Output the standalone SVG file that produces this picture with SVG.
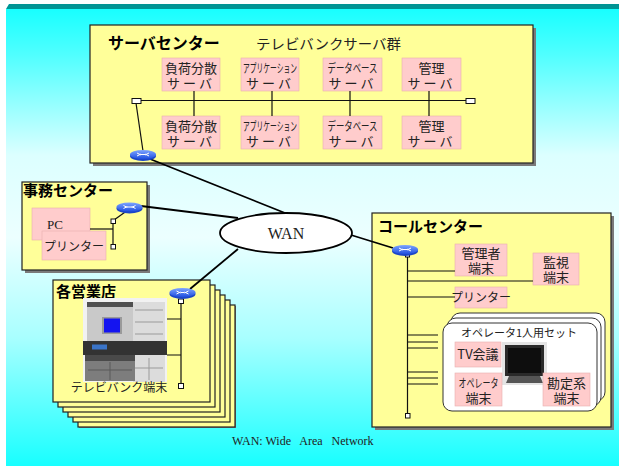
<svg xmlns="http://www.w3.org/2000/svg" width="619" height="466" viewBox="0 0 619 466">
  <defs>
    <linearGradient id="bg" x1="0" y1="0" x2="0" y2="1">
      <stop offset="0" stop-color="#18ffff"/>
      <stop offset="0.1" stop-color="#50ffff"/>
      <stop offset="0.32" stop-color="#dcffff"/>
      <stop offset="0.5" stop-color="#ecffff"/>
      <stop offset="0.72" stop-color="#a8ffff"/>
      <stop offset="1" stop-color="#18ffff"/>
    </linearGradient>
    <linearGradient id="rtr" x1="0" y1="0" x2="0" y2="1">
      <stop offset="0" stop-color="#7fa6ff"/>
      <stop offset="1" stop-color="#1f4fe0"/>
    </linearGradient>
    <g id="router">
      <ellipse cx="0" cy="1" rx="13" ry="5" fill="#1c46c8"/>
      <ellipse cx="0" cy="-0.5" rx="13" ry="4.5" fill="url(#rtr)"/>
      <path d="M-6 -2 L-2 0 M-6 1 L-2 -1 M6 -2 L2 0 M6 1 L2 -1 M-2 -0.5 H2" stroke="#fff" stroke-width="1"/>
    </g>
  </defs>
  <style>
    .box{fill:#ffff99;stroke:#222;stroke-width:1.2}
    .shadow{fill:#7a7a7a}
    .pink{fill:#ffcccc;stroke:#e8b0b0;stroke-width:0.6}
    .wire{stroke:#111;stroke-width:1.2;fill:none}
    .thick{stroke:#000;stroke-width:1.8;fill:none}
    .term{fill:#fff;stroke:#111;stroke-width:1}
    .title{font-family:"Liberation Sans","Noto Sans CJK JP",sans-serif;font-weight:bold;fill:#000}
    .jp{font-family:"Noto Sans CJK JP",sans-serif;fill:#222}
    .serif{font-family:"Liberation Serif","Noto Sans CJK JP",serif;fill:#222}
    .set{fill:#fff;stroke:#333;stroke-width:1}
    .lbl{font-family:"Noto Sans CJK JP",sans-serif;fill:#222;font-size:13px;text-anchor:middle}
  </style>

  <!-- page background -->
  <rect x="0" y="0" width="619" height="466" fill="#fff"/>
  <rect x="6" y="9" width="613" height="457" fill="url(#bg)"/>
  <path d="M9 4 H619 V9 H6 Z" fill="#009494"/>

  <!-- server centre -->
  <g id="server-center">
    <rect class="shadow" x="93" y="28" width="443" height="138"/>
    <rect class="box" x="90" y="25" width="443" height="138"/>
    <text class="title" x="108" y="49" font-size="16">サーバセンター</text>
    <text class="jp" x="256" y="49" font-size="14" textLength="145" lengthAdjust="spacingAndGlyphs">テレビバンクサーバ群</text>
  </g>
  <g id="srv-lb1"><rect class="pink" x="162" y="58" width="58" height="33"/>
    <text class="lbl"><tspan x="191" y="73">負荷分散</tspan><tspan x="191" y="88" letter-spacing="3">サーバ</tspan></text></g>
  <g id="srv-app1"><rect class="pink" x="241" y="58" width="58" height="33"/>
    <text class="lbl"><tspan x="270" y="73" font-size="12" textLength="54" lengthAdjust="spacingAndGlyphs">アプリケーション</tspan><tspan x="270" y="88" letter-spacing="3">サーバ</tspan></text></g>
  <g id="srv-db1"><rect class="pink" x="323" y="58" width="59" height="33"/>
    <text class="lbl"><tspan x="352.5" y="73" font-size="12" textLength="50" lengthAdjust="spacingAndGlyphs">データベース</tspan><tspan x="352.5" y="88" letter-spacing="3">サーバ</tspan></text></g>
  <g id="srv-mg1"><rect class="pink" x="402" y="58" width="59" height="33"/>
    <text class="lbl"><tspan x="431.5" y="73">管理</tspan><tspan x="431.5" y="88" letter-spacing="3">サーバ</tspan></text></g>
  <g id="srv-lb2"><rect class="pink" x="162" y="116" width="58" height="33"/>
    <text class="lbl"><tspan x="191" y="131">負荷分散</tspan><tspan x="191" y="146" letter-spacing="3">サーバ</tspan></text></g>
  <g id="srv-app2"><rect class="pink" x="241" y="116" width="58" height="33"/>
    <text class="lbl"><tspan x="270" y="131" font-size="12" textLength="54" lengthAdjust="spacingAndGlyphs">アプリケーション</tspan><tspan x="270" y="146" letter-spacing="3">サーバ</tspan></text></g>
  <g id="srv-db2"><rect class="pink" x="323" y="116" width="59" height="33"/>
    <text class="lbl"><tspan x="352.5" y="131" font-size="12" textLength="50" lengthAdjust="spacingAndGlyphs">データベース</tspan><tspan x="352.5" y="146" letter-spacing="3">サーバ</tspan></text></g>
  <g id="srv-mg2"><rect class="pink" x="402" y="116" width="59" height="33"/>
    <text class="lbl"><tspan x="431.5" y="131">管理</tspan><tspan x="431.5" y="146" letter-spacing="3">サーバ</tspan></text></g>

  <!-- office centre -->
  <g id="office-center">
    <rect class="shadow" x="25" y="185" width="125" height="88"/>
    <rect class="box" x="22" y="182" width="125" height="88"/>
    <text class="title" x="23" y="196" font-size="15">事務センター</text>
  </g>
  <g id="office-pc"><rect class="pink" x="32" y="208" width="58" height="32"/>
    <text class="serif" x="55" y="229" font-size="13" text-anchor="middle">PC</text></g>
  <g id="office-printer"><rect class="pink" x="42" y="231" width="64" height="29"/>
    <text class="jp" x="74" y="251" font-size="12" text-anchor="middle">プリンター</text></g>

  <!-- branch offices: stacked sheets -->
  <g id="branch">
    <rect class="shadow" x="79" y="306" width="157" height="122"/>
    <rect class="box" x="78" y="305" width="157" height="122"/>
    <rect class="box" x="73" y="300" width="157" height="122"/>
    <rect class="box" x="68" y="295" width="157" height="122"/>
    <rect class="box" x="63" y="290" width="157" height="122"/>
    <rect class="box" x="58" y="285" width="157" height="122"/>
    <rect class="box" x="53" y="280" width="157" height="122"/>
    <text class="title" x="56" y="297" font-size="15">各営業店</text>
  </g>
  <g id="branch-terminal">
    <rect x="83" y="298" width="84" height="84" fill="#f2f2f2"/>
    <rect x="87" y="302" width="46" height="5" fill="#505050"/>
    <rect x="87" y="307" width="46" height="35" fill="#c9c9c9"/>
    <rect x="102" y="317" width="20" height="17" fill="#9a9a9a"/>
    <rect x="104" y="318.5" width="16" height="14" fill="#1414f0"/>
    <rect x="133" y="302" width="32" height="80" fill="#dcdcdc"/>
    <path d="M135 310 H163 M135 322 H163 M135 334 H163 M149 358 V380 M135 368 H163" stroke="#9a9a9a" stroke-width="1"/>
    <rect x="83" y="341" width="84" height="14" fill="#333"/>
    <rect x="92" y="344.5" width="15" height="5" fill="#3a74c8"/>
    <rect x="85" y="355" width="50" height="26" fill="#7d7d7d"/>
    <rect x="85" y="355" width="50" height="6" fill="#4a4a4a"/>
    <path d="M110 362 V380 M88 370 H132" stroke="#5a5a5a" stroke-width="1"/>
    <text class="jp" x="119" y="392" font-size="12" text-anchor="middle">テレビバンク端末</text>
  </g>

  <!-- call centre -->
  <g id="call-center">
    <rect class="shadow" x="375" y="216" width="239" height="214"/>
    <rect class="box" x="372" y="213" width="239" height="214"/>
    <text class="title" x="378" y="232" font-size="15">コールセンター</text>
  </g>
  <g id="cc-manager"><rect class="pink" x="455" y="244" width="52" height="32"/>
    <text class="lbl"><tspan x="481" y="258">管理者</tspan><tspan x="481" y="273">端末</tspan></text></g>
  <g id="cc-monitor"><rect class="pink" x="533" y="253" width="46" height="32"/>
    <text class="lbl"><tspan x="556" y="267">監視</tspan><tspan x="556" y="282">端末</tspan></text></g>
  <g id="cc-printer"><rect class="pink" x="455" y="287" width="52" height="21"/>
    <text class="jp" x="481" y="302" font-size="12" text-anchor="middle">プリンター</text></g>
  <g id="operator-set">
    <rect class="set" x="451" y="313" width="154" height="88" rx="9"/>
    <rect class="set" x="447" y="318" width="154" height="88" rx="9"/>
    <rect class="set" x="443" y="323" width="154" height="88" rx="9"/>
    <text class="jp" x="519" y="337" font-size="11" text-anchor="middle">オペレータ1人用セット</text>
  </g>
  <g id="cc-display">
    <rect x="502" y="342" width="45" height="43" fill="#e4e4e4"/>
    <rect x="505" y="345" width="39" height="31" fill="#2a2a2a"/>
    <rect x="508" y="348" width="33" height="25" fill="#0e0e0e"/>
    <path d="M509 376 L540 376 L543 383 L506 383 Z" fill="#555"/>
  </g>
  <g id="cc-tv"><rect class="pink" x="455" y="342" width="46" height="25"/>
    <text class="jp" x="478" y="359" font-size="13" text-anchor="middle">TV会議</text></g>
  <g id="cc-operator"><rect class="pink" x="455" y="373" width="47" height="33"/>
    <text class="lbl"><tspan x="478.5" y="388" font-size="12" textLength="40" lengthAdjust="spacingAndGlyphs">オペレータ</tspan><tspan x="478.5" y="403">端末</tspan></text></g>
  <g id="cc-account"><rect class="pink" x="543" y="373" width="47" height="33"/>
    <text class="lbl"><tspan x="566.5" y="388">勘定系</tspan><tspan x="566.5" y="403">端末</tspan></text></g>

  <!-- WAN cloud -->
  <g id="wan">
    <ellipse cx="286" cy="233" rx="66" ry="20" fill="#fff" stroke="#000" stroke-width="1.8"/>
    <text class="serif" x="286" y="239" font-size="16" text-anchor="middle">WAN</text>
  </g>

  <!-- connectors -->
  <g id="connectors">
    <!-- server bus -->
    <line class="wire" x1="141" y1="100.5" x2="466" y2="100.5" stroke-width="1.5"/>
    <path class="wire" d="M194 91 V116 M272 91 V116 M350 91 V116 M429 91 V116"/>
    <line class="wire" x1="136" y1="103" x2="143" y2="151"/>
    <!-- WAN links -->
    <line class="thick" x1="150" y1="159" x2="285" y2="213"/>
    <line class="thick" x1="141" y1="206" x2="238" y2="218"/>
    <line class="thick" x1="238" y1="249" x2="190" y2="289"/>
    <line class="thick" x1="351" y1="235" x2="393" y2="248"/>
    <!-- office LAN -->
    <line class="wire" x1="128" y1="210" x2="114" y2="220"/>
    <line class="wire" x1="113" y1="223" x2="113" y2="245"/>
    <line class="wire" x1="90" y1="229" x2="113" y2="229"/>
    <!-- branch LAN -->
    <line class="wire" x1="181" y1="303" x2="181" y2="384"/>
    <path class="wire" d="M167 319 H181 M167 355 H181"/>
    <!-- call centre LAN -->
    <line class="wire" x1="407.5" y1="257" x2="407.5" y2="414"/>
    <path class="wire" d="M407.5 271 H455 M407.5 281 H533 M407.5 297 H455 M407.5 335 H438 M407.5 342 H438 M407.5 348 H438 M407.5 372 H438 M407.5 378 H438 M407.5 384 H438"/>
    <!-- terminators -->
    <rect class="term" x="132" y="98.5" width="9" height="5"/>
    <rect class="term" x="466" y="98.5" width="9" height="5"/>
    <rect class="term" x="111" y="219" width="4.5" height="4.5"/>
    <rect class="term" x="111" y="244.5" width="4.5" height="4.5"/>
    <rect class="term" x="178.5" y="299" width="5" height="4.5"/>
    <rect class="term" x="178.5" y="383.5" width="5" height="5"/>
    <rect class="term" x="405.5" y="253" width="4" height="4"/>
    <rect class="term" x="405.5" y="413.5" width="4.5" height="4.5"/>
    <!-- routers -->
    <use href="#router" x="143" y="155"/>
    <use href="#router" x="129.5" y="207.5"/>
    <use href="#router" x="182.5" y="293"/>
    <use href="#router" x="405" y="250"/>
  </g>

  <text class="serif" x="232" y="445" font-size="12" xml:space="preserve">WAN: Wide   Area   Network</text>
</svg>
